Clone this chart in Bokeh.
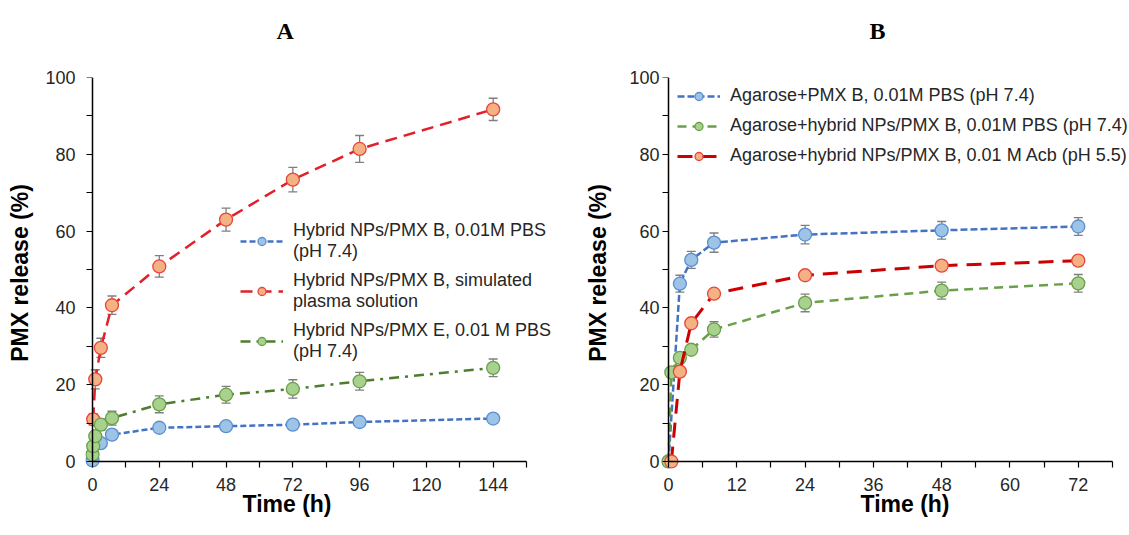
from bokeh.plotting import figure
from bokeh.models import (ColumnDataSource, Whisker, TeeHead, Legend, LegendItem,
                          FixedTicker, Range1d, Title, LinearAxis)
from bokeh.layouts import row
from bokeh.embed import file_html
from bokeh.resources import INLINE

# ---------------- Panel A data ----------------
a_blue_t = [0, 3, 7, 24, 48, 72, 96, 144]
a_blue_v = [0.3, 4.8, 7.0, 8.8, 9.2, 9.6, 10.3, 11.2]
a_blue_e = [0.3, 1.0, 1.2, 1.0, 0.8, 0.8, 0.8, 0.8]

a_red_t = [0.25, 1, 3, 7, 24, 48, 72, 96, 144]
a_red_v = [11.0, 21.4, 29.6, 40.7, 50.8, 63.0, 73.4, 81.4, 91.7]
a_red_e = [1.5, 2.5, 2.5, 2.4, 2.8, 3.0, 3.2, 3.5, 2.9]

a_green_t = [0, 0.25, 1, 3, 7, 24, 48, 72, 96, 144]
a_green_v = [1.8, 4.0, 6.6, 9.6, 11.3, 14.9, 17.4, 18.9, 20.9, 24.4]
a_green_e = [0.5, 0.8, 1.0, 1.5, 1.8, 2.2, 2.2, 2.4, 2.3, 2.3]

a_labels = ["Hybrid NPs/PMX B, 0.01M PBS\n(pH 7.4)",
            "Hybrid NPs/PMX B, simulated\nplasma solution",
            "Hybrid NPs/PMX E, 0.01 M PBS\n(pH 7.4)"]
a_xmax = 156

# ---------------- Panel B data ----------------
b_blue_t = [0, 2, 4, 8, 24, 48, 72]
b_blue_v = [0, 46.3, 52.5, 57.0, 59.1, 60.2, 61.2]
b_blue_e = [0, 2.2, 2.2, 2.5, 2.4, 2.3, 2.3]

b_green_t = [0, 0.5, 2, 4, 8, 24, 48, 72]
b_green_v = [0, 23.2, 27.0, 29.1, 34.4, 41.3, 44.5, 46.4]
b_green_e = [0, 0.5, 0.8, 1.0, 2.0, 2.3, 2.2, 2.3]

b_red_t = [0.5, 2, 4, 8, 24, 48, 72]
b_red_v = [0, 23.4, 36.0, 43.7, 48.5, 51.0, 52.3]
b_red_e = [0, 0.5, 0.5, 0.5, 0.7, 0.7, 0.7]

b_labels = ["Agarose+PMX B, 0.01M PBS (pH 7.4)",
            "Agarose+hybrid NPs/PMX B, 0.01M PBS (pH 7.4)",
            "Agarose+hybrid NPs/PMX B, 0.01 M Acb (pH 5.5)"]
b_xmax = 78

x_title = "Time (h)"
y_title = "PMX release (%)"

FONT = "Liberation Sans"
TXT = "#262626"


def style(p, xmax, xmajor, xminor, ylab_standoff, ytitle_standoff, xtitle_offset):
    p.outline_line_color = None
    p.xgrid.visible = False
    p.ygrid.visible = False
    p.background_fill_color = "white"
    p.border_fill_color = "white"
    xmaj = list(range(0, xmax, xmajor))
    xall = list(range(0, xmax + 1, xminor))
    ymaj = list(range(0, 101, 20))
    yall = list(range(0, 101, 10))
    p.xaxis.ticker = FixedTicker(ticks=xmaj)
    p.yaxis.ticker = FixedTicker(ticks=ymaj)
    # default axes at the frame edge: only tick labels (and y title)
    for ax in (p.xaxis, p.yaxis):
        ax.axis_line_color = None
        ax.major_tick_line_color = None
        ax.minor_tick_line_color = None
        ax.major_tick_out = 0
        ax.major_tick_in = 0
        ax.minor_tick_out = 0
        ax.minor_tick_in = 0
        ax.major_label_text_font = FONT
        ax.major_label_text_font_size = "18px"
        ax.major_label_text_color = TXT
        ax.axis_label_text_font = FONT
        ax.axis_label_text_font_size = "23px"
        ax.axis_label_text_font_style = "bold"
        ax.axis_label_text_color = "black"
    p.yaxis.axis_label = y_title
    p.xaxis.major_label_standoff = 9
    p.yaxis.major_label_standoff = ylab_standoff
    p.yaxis.axis_label_standoff = ytitle_standoff
    # x-axis title as a title panel below the tick labels
    p.add_layout(Title(text=x_title, align="left", offset=xtitle_offset, standoff=-10,
                       text_font=FONT, text_font_size="23px", text_font_style="bold",
                       text_color="black"), "below")
    # axis lines and tick marks drawn at data zero (tick marks only, no labels)
    common = dict(fixed_location=0, axis_line_color="black", axis_line_width=1.5,
                  major_tick_line_color="black", minor_tick_line_color="black",
                  major_tick_line_width=1.2, minor_tick_line_width=1.2,
                  major_tick_out=6, major_tick_in=0, minor_tick_out=6, minor_tick_in=0,
                  major_label_standoff=0)
    xl = LinearAxis(ticker=FixedTicker(ticks=[], minor_ticks=xall), bounds=(0, xmax), **common)
    yl = LinearAxis(ticker=FixedTicker(ticks=[], minor_ticks=yall), bounds=(0, 100), **common)
    p.add_layout(xl, "below")
    p.add_layout(yl, "left")


def add_title(p, text, offset):
    # inner spacer panel, then the visible title further out
    p.add_layout(Title(text=" ", text_font_size="2px", standoff=30), "above")
    p.add_layout(Title(text=text, align="left", offset=offset, standoff=0,
                       text_font="Liberation Serif", text_font_size="24px",
                       text_font_style="bold", text_color="black"), "above")


def series(p, t, v, e, line_color, dash, lw, fill, edge):
    src = ColumnDataSource(dict(t=t, v=v, lo=[a - b for a, b in zip(v, e)],
                                hi=[a + b for a, b in zip(v, e)]))
    w = Whisker(base="t", lower="lo", upper="hi", source=src, dimension="height",
                line_color="#7f7f7f", line_width=1.3, level="underlay",
                upper_head=TeeHead(size=9, line_color="#7f7f7f", line_width=1.3),
                lower_head=TeeHead(size=9, line_color="#7f7f7f", line_width=1.3))
    p.add_layout(w)
    ln = p.line("t", "v", source=src, line_color=line_color, line_dash=dash, line_width=lw)
    sc = p.scatter("t", "v", source=src, size=13, fill_color=fill, line_color=edge,
                   line_width=1.3)
    return [ln, sc]


# ---------------- Panel A ----------------
# frame spans 85..560 px horizontally; x=0 at 92 px, x=156 at 526 px
pA = figure(width=560, height=535, output_backend="svg", toolbar_location=None,
            x_range=Range1d(-2.52, 168.2), y_range=Range1d(-1.81, 100),
            min_border_left=85, min_border_right=0, min_border_top=75,
            min_border_bottom=66)
style(pA, a_xmax, 24, 12, 10, 9, 157)
rA1 = series(pA, a_blue_t, a_blue_v, a_blue_e, "#4472c4", "6 3", 2.5, "#9dc3e6", "#5b8fd0")
rA2 = series(pA, a_red_t, a_red_v, a_red_e, "#e0202a", "12 7", 2.5, "#f4b183", "#e8463c")
rA3 = series(pA, a_green_t, a_green_v, a_green_e, "#4e7d2e", "10 6 3 6", 2.5, "#a9d18e", "#6aa04a")
legA = Legend(items=[LegendItem(label=a_labels[0], renderers=rA1),
                     LegendItem(label=a_labels[1], renderers=rA2),
                     LegendItem(label=a_labels[2], renderers=rA3)],
              location=(155, 106), padding=0, margin=0, spacing=8,
              glyph_width=43, glyph_height=20, label_standoff=10,
              label_text_font=FONT, label_text_font_size="18px",
              label_text_color=TXT, border_line_color=None,
              background_fill_alpha=0)
pA.add_layout(legA, "center")
add_title(pA, "A", 191)

# ---------------- Panel B ----------------
# frame spans 661..1129 px; x=0 at 668 px, x=78 at 1112 px
pB = figure(width=569, height=535, output_backend="svg", toolbar_location=None,
            x_range=Range1d(-1.23, 81.0), y_range=Range1d(-1.82, 100),
            min_border_left=101, min_border_right=0, min_border_top=77,
            min_border_bottom=67)
style(pB, b_xmax, 12, 6, 2, 15, 199)
rB1 = series(pB, b_blue_t, b_blue_v, b_blue_e, "#4472c4", "7 3", 2.5, "#9dc3e6", "#5b8fd0")
rB2 = series(pB, b_green_t, b_green_v, b_green_e, "#6aa04a", "9 6", 2.5, "#a9d18e", "#6aa04a")
rB3 = series(pB, b_red_t, b_red_v, b_red_e, "#cc0000", "15 9", 3, "#f4b183", "#e8463c")
legB = Legend(items=[LegendItem(label=b_labels[0], renderers=rB1),
                     LegendItem(label=b_labels[1], renderers=rB2),
                     LegendItem(label=b_labels[2], renderers=rB3)],
              location=(16, 302), padding=0, margin=0, spacing=9,
              glyph_width=43, glyph_height=20, label_standoff=10,
              label_text_font=FONT, label_text_font_size="18px",
              label_text_color=TXT, border_line_color=None,
              background_fill_alpha=0)
pB.add_layout(legB, "center")
add_title(pB, "B", 208)

layout = row(pA, pB)
open("out.html", "w").write(file_html(layout, INLINE))
